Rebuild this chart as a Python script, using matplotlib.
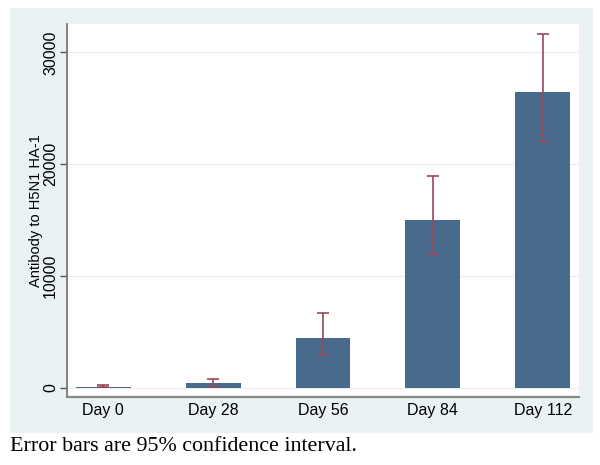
import matplotlib
matplotlib.use("Agg")
import matplotlib.pyplot as plt
import numpy as np

categories = ["Day 0", "Day 28", "Day 56", "Day 84", "Day 112"]
means = [90, 360, 4440, 14980, 26500]
ci_low = [20, 60, 2890, 11960, 22050]
ci_high = [200, 800, 6710, 18940, 31690]
yticks = [0, 10000, 20000, 30000]

bar_color = "#486a8c"
err_color = "#9a4858"
panel_color = "#eaf2f3"

fig = plt.figure(figsize=(6, 4.65), dpi=100)
fig.patch.set_facecolor("white")
bg = fig.add_axes([10/600, 1-433/465, 583/600, 425/465], zorder=-10)
bg.set_facecolor(panel_color)
bg.set_xticks([]); bg.set_yticks([])
for s in bg.spines.values():
    s.set_visible(False)

ax = fig.add_axes([67/600, 1-397/465, 512/600, 373/465])
ax.set_facecolor("white")
x = np.arange(len(categories))
ax.bar(x, means, width=0.5, color=bar_color, zorder=3)
m = np.array(means); lo = np.array(ci_low); hi = np.array(ci_high)
ax.errorbar(x, m, yerr=[m - lo, hi - m], fmt="none", ecolor=err_color,
            elinewidth=1.2, capsize=4, capthick=1.2, zorder=4)

ax.set_xlim(-0.33, 4.33)
ax.set_ylim(-850, 32550)
ax.set_xticks(x)
ax.set_xticklabels(categories, fontsize=11.5, family="Liberation Sans")
ax.set_yticks(yticks)
ax.set_yticklabels([str(t) for t in yticks], rotation=90, va="center",
                   fontsize=11.5, family="Liberation Sans")
ax.tick_params(axis="x", length=0, pad=4)
ax.tick_params(axis="y", length=5, width=1, color="#555555", pad=1.5)
ax.grid(axis="y", color="#eeeeee", linewidth=1, zorder=0)
ax.set_axisbelow(True)
for s in ["top", "right"]:
    ax.spines[s].set_visible(False)
ax.spines["left"].set_color("#777777")
ax.spines["bottom"].set_color("#888888")
ax.spines["left"].set_linewidth(1.3)
ax.spines["bottom"].set_linewidth(1.6)
ax.set_ylabel("Antibody to H5N1 HA-1", fontsize=10.5, family="Liberation Sans", labelpad=0)

fig.text(10/600, 1-446/465, "Error bars are 95% confidence interval.",
         fontsize=15.8, family="Liberation Serif", va="center", ha="left")

fig.savefig("out.png", dpi=100)
